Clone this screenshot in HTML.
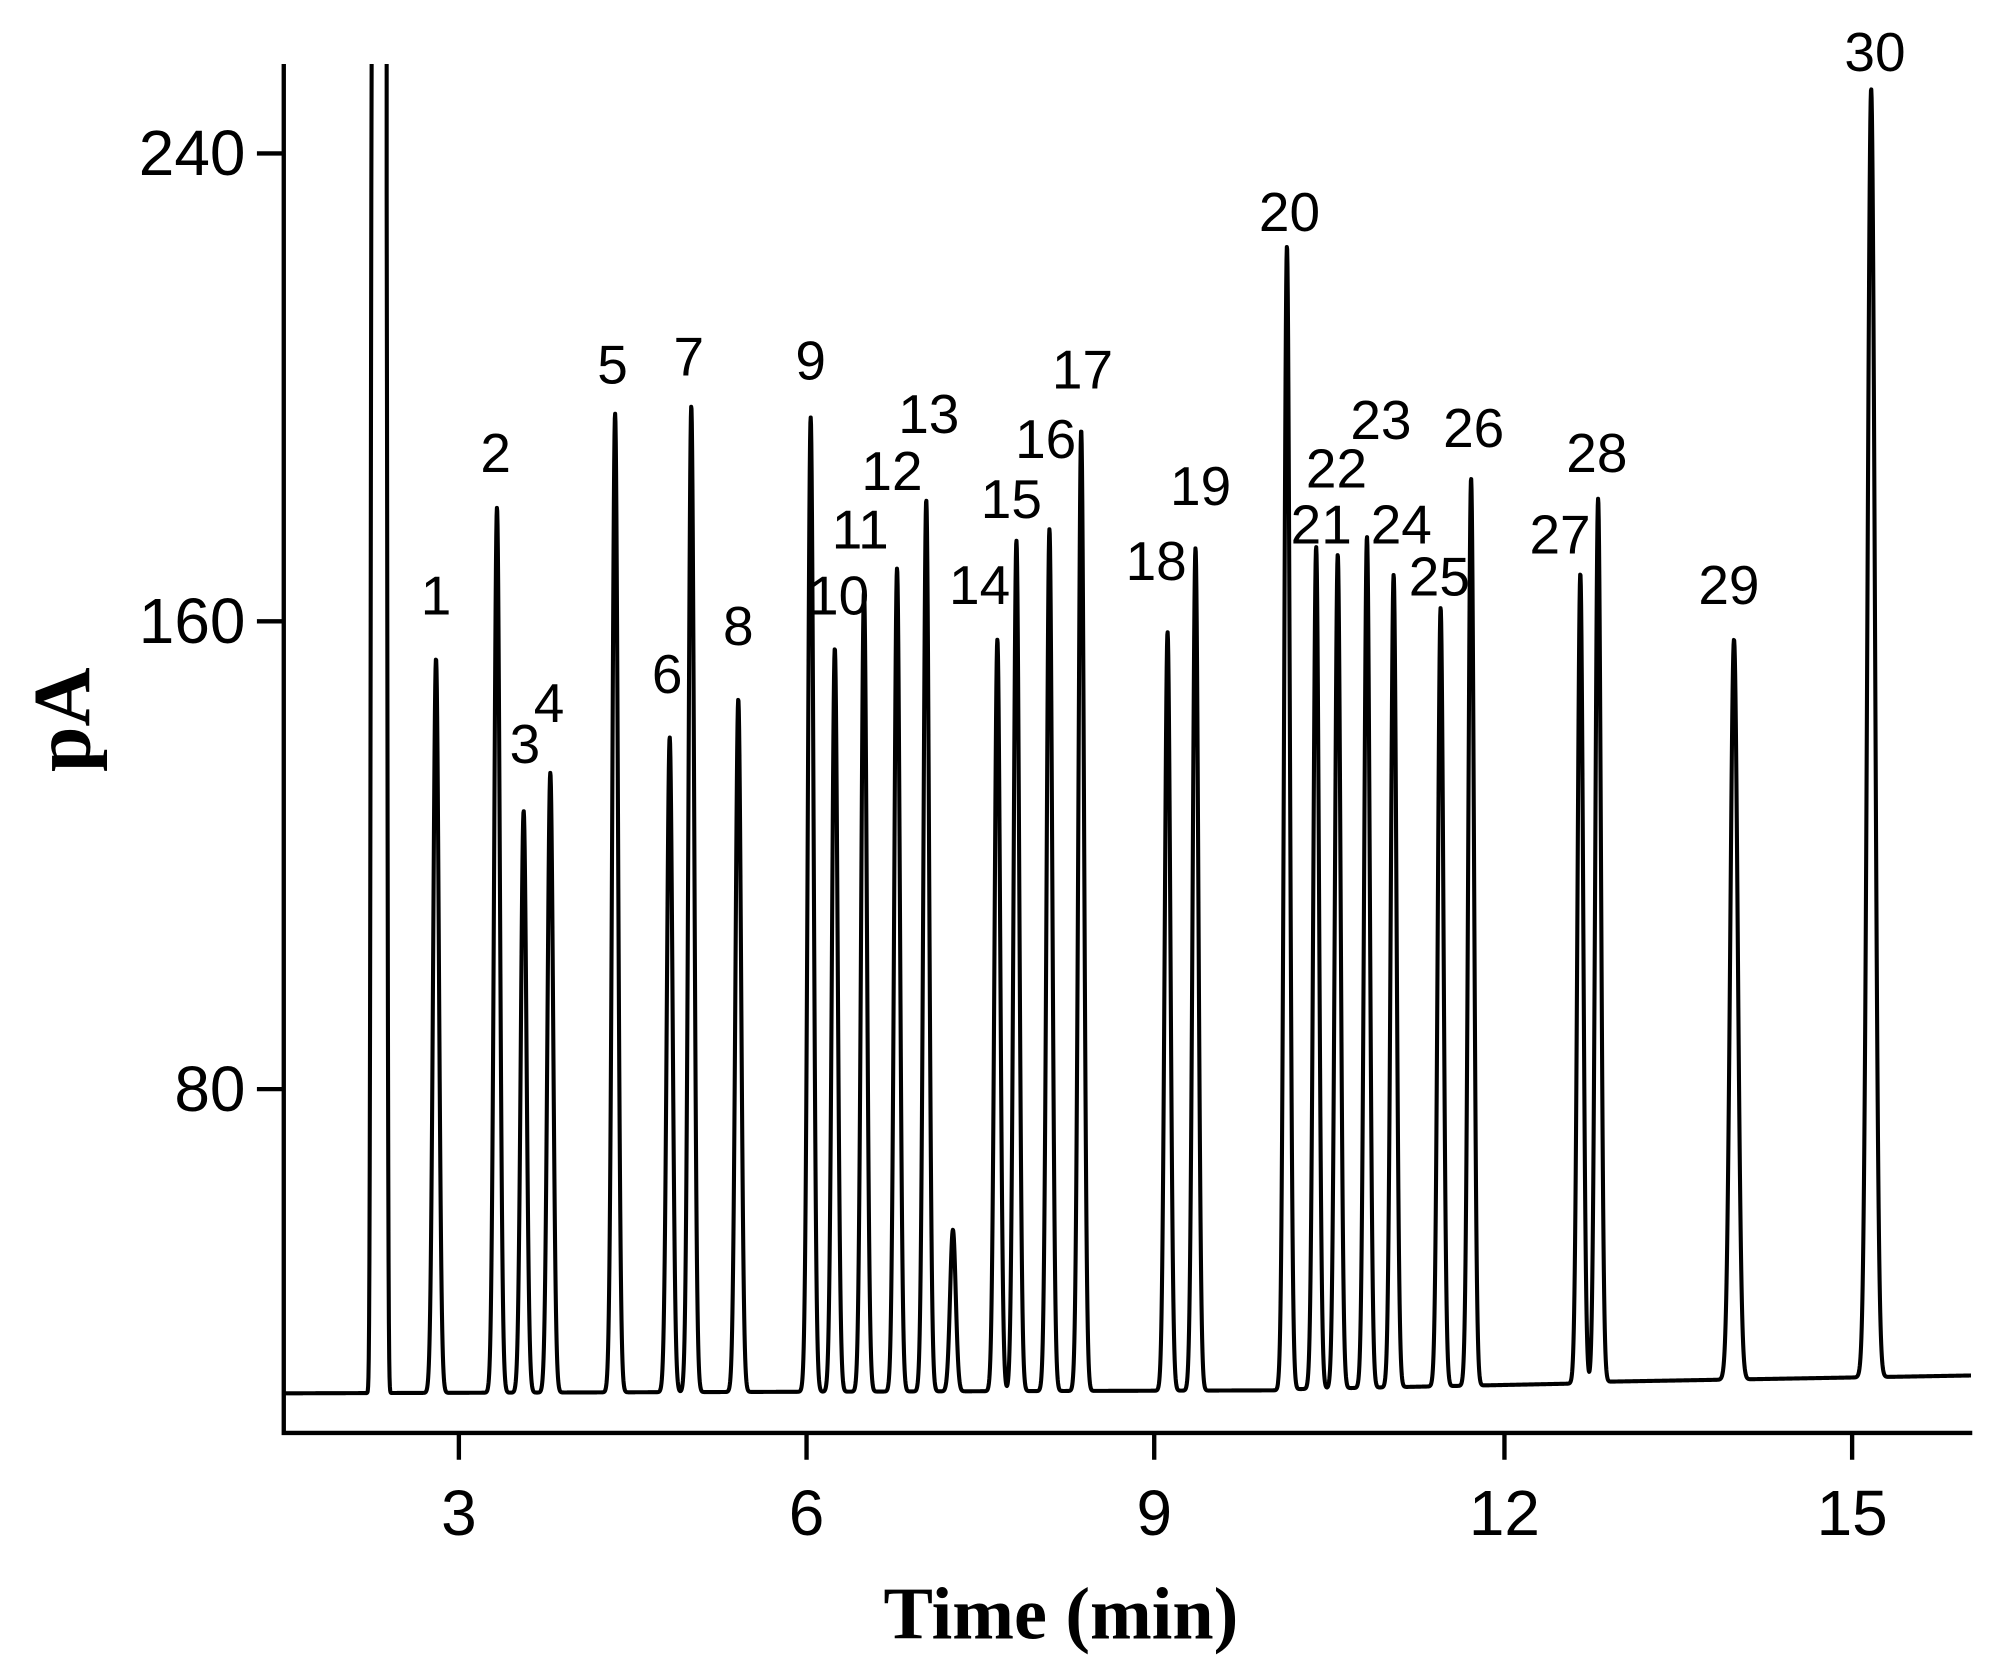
<!DOCTYPE html>
<html><head><meta charset="utf-8"><style>
html,body{margin:0;padding:0;background:#fff;}
svg{display:block;}
</style></head><body>
<svg id="s" width="1994" height="1658" viewBox="0 0 1560 1297" xmlns="http://www.w3.org/2000/svg">
<g id="ax" stroke="#000" stroke-width="3.4" fill="none">
<path d="M222,50 V1121 H1543"/>
<path d="M201,120 H222 M201,486 H222 M201,852 H222"/>
<path d="M359,1121 V1142 M631,1121 V1142 M903,1121 V1142 M1177,1121 V1142 M1449,1121 V1142"/>
</g>
<g font-family="Liberation Sans, Arial, sans-serif" font-size="50" fill="#000">
<text x="192" y="137" text-anchor="end">240</text>
<text x="192" y="503" text-anchor="end">160</text>
<text x="192" y="869" text-anchor="end">80</text>
<text x="359" y="1201" text-anchor="middle">3</text>
<text x="631" y="1201" text-anchor="middle">6</text>
<text x="903" y="1201" text-anchor="middle">9</text>
<text x="1177" y="1201" text-anchor="middle">12</text>
<text x="1449" y="1201" text-anchor="middle">15</text>
</g>
<text x="830" y="1282" text-anchor="middle" font-family="Liberation Serif, serif" font-weight="bold" font-size="58">Time (min)</text>
<text transform="translate(70,563) rotate(-90)" text-anchor="middle" font-family="Liberation Serif, serif" font-weight="bold" font-size="64">pA</text>
<path id="tr" fill="none" stroke="#000" stroke-width="3.2" stroke-linejoin="round"/>
<g id="lb" font-family="Liberation Sans, Arial, sans-serif" font-size="43" fill="#000" text-anchor="middle"></g>
</svg>
<script>
function X(x){return 359+(x-361)*(1090/1097);}
function Y(y){return 120+(y-120)*0.993;}
var P=[[343,518,343,468,'1'],[391,399,390,356,'2'],[412,638,413,585,'3'],[433,608,432,553,'4'],[484,325,482,286,'5'],[527,580,525,530,'6'],[544,319,542,280,'7'],[581,550,581,492,'8'],[638,328,638,283,'9'],[657,510,660,468,'10'],[680,465,677,416,'11'],[706,447,702,370,'12'],[729,393,731,325,'13'],[785,503,771,460,'14'],[800,425,796,392,'15'],[826,416,823,345,'16'],[851,338,852,290,'17'],[919,497,910,441,'18'],[941,431,945,382,'19'],[1013,193,1015,166,'20'],[1036,430,1040,412,'21'],[1053,436,1052,368,'22'],[1076,422,1087,330,'23'],[1097,452,1103,412,'24'],[1134,478,1133,453,'25'],[1158,376,1160,336,'26'],[1244,451,1228,420,'27'],[1258,392,1257,356,'28'],[1365,503,1361,460,'29'],[1473,69,1476,40,'30'],[750,968,0,0,'']];
var lb=document.getElementById('lb'),h='';
var pk=[];
P.forEach(function(p){var c=X(p[0]),t=Y(p[1]);pk.push([c,t,p[0]>1350?2.9:2.2]);if(p[4])h+='<text x="'+X(p[2])+'" y="'+(Y(p[3])+15)+'">'+p[4]+'</text>';});
lb.innerHTML=h;
function base(x){if(x<1000)return 1090-(x-222)*0.003;if(x<1250)return 1087-(x-1000)*0.02;return 1081-(x-1250)*0.017;}
var d='',pen=false,started=false;
for(var x=222;x<=1542;x+=0.25){
 var b=base(x),y=b;
 for(var i=0;i<pk.length;i++){var c=pk[i][0],s=pk[i][2];var dx=x-c;if(Math.abs(dx)<20){var hgt=b-pk[i][1];y-=hgt*Math.exp(-dx*dx/(2*s*s));}}
 if(x>=287&&x<=307){var e=Math.min(1,Math.exp(-Math.pow(Math.max(0,Math.abs(x-296.5)-5.5)/1.3,2)));y=b-(b-0)*e;}
 if(y<50){ if(pen){d+='L'+x.toFixed(2)+',50';} pen=false; started=true; continue;}
 if(!pen){ d+= started ? 'M'+x.toFixed(2)+',50L'+x.toFixed(2)+','+y.toFixed(2) : 'M'+x.toFixed(2)+','+y.toFixed(2); }
 else d+='L'+x.toFixed(2)+','+y.toFixed(2);
 pen=true;
}
document.getElementById('tr').setAttribute('d',d);
</script>
</body></html>
